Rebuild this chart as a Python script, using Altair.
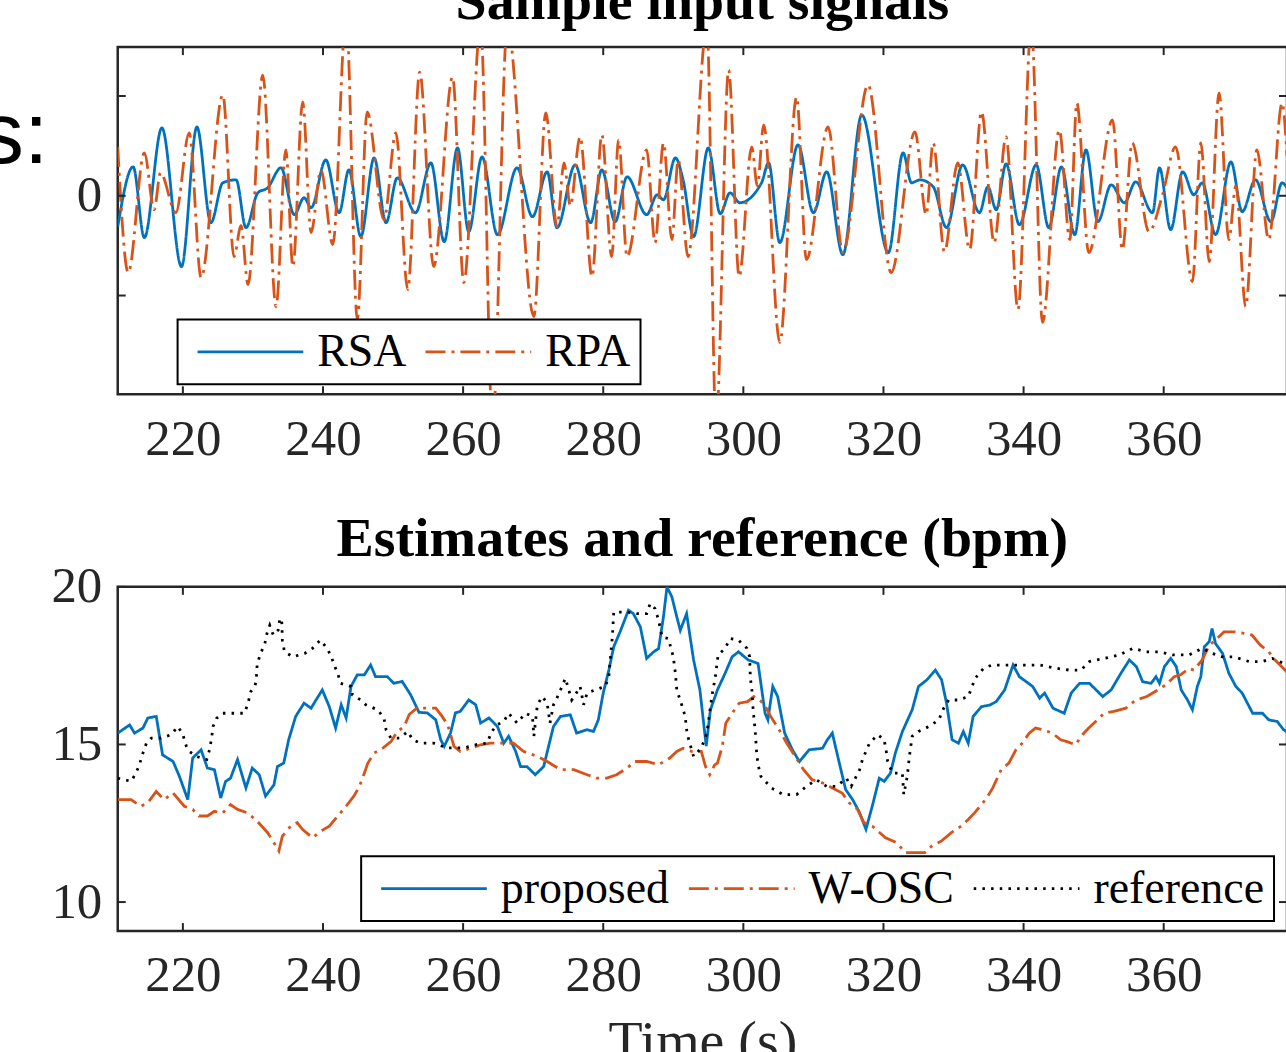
import altair as alt
import pandas as pd

# ---------------- data ----------------
x_ticks = [220, 240, 260, 280, 300, 320, 340, 360]
top_yticks = [-1, 0, 1]
top_ylabels = [0]
bot_yticks = [10, 15, 20]

rsa_t = [210.7, 212.9, 214.5, 217.0, 219.8, 222.0, 224.0, 225.7, 227.6, 229.0,
         230.7, 232.1, 234.0, 235.9, 237.3, 238.3, 240.4, 242.3, 243.7, 245.4,
         247.3, 249.0, 250.6, 253.2, 255.4, 257.3, 259.2, 260.8, 262.7, 264.9,
         267.7, 269.9, 272.0, 273.4, 276.0, 278.2, 279.8, 281.7, 283.4, 286.2,
         287.7, 288.6, 290.3, 291.4, 292.9, 295.0, 296.7, 298.1, 299.5, 302.6,
         303.6, 305.2, 307.8, 310.0, 311.9, 314.2, 316.9, 320.7, 322.8, 324.0,
         325.2, 327.1, 329.0, 331.3, 333.7, 334.9, 336.1, 337.5, 339.4, 341.8,
         343.6, 345.4, 347.3, 348.9, 350.6, 352.5, 354.4, 356.0, 358.4, 359.4,
         361.0, 362.7, 364.3, 365.5, 367.4, 369.6, 371.2, 373.1, 375.3, 376.9,
         377.6]
rsa_v = [-0.31, 0.29, -0.42, 0.68, -0.71, 0.69, -0.27, 0.13, 0.16, -0.32,
         0.03, 0.08, 0.28, -0.19, -0.02, -0.12, 0.36, -0.17, 0.26, -0.41,
         0.38, -0.27, 0.18, -0.17, 0.33, -0.46, 0.48, -0.36, 0.39, -0.39,
         0.28, -0.21, 0.24, -0.32, 0.31, -0.27, 0.26, -0.26, 0.19, -0.19,
         0.01, -0.04, 0.38, 0.16, -0.41, 0.48, -0.18, 0.03, -0.07, 0.13,
         0.33, -0.47, 0.51, -0.17, 0.24, -0.59, 0.81, -0.57, 0.43, 0.13,
         0.16, 0.09, -0.32, 0.31, -0.17, 0.09, -0.14, 0.32, -0.29, 0.31,
         -0.32, 0.29, -0.39, 0.46, -0.26, 0.11, -0.07, 0.14, -0.17, 0.28,
         -0.34, 0.24, 0.01, 0.13, -0.39, 0.34, -0.16, 0.16, -0.26, 0.13,
         0.08]

rpa_t = [210.7, 212.2, 214.5, 215.9, 216.8, 219.0, 220.9, 222.6, 225.7, 227.3,
         228.3, 229.3, 231.4, 233.3, 234.7, 235.7, 237.1, 238.3, 239.7, 241.4,
         243.3, 244.9, 246.3, 248.7, 250.4, 252.1, 253.8, 255.8, 258.5, 260.1,
         262.5, 264.2, 266.3, 270.1, 271.8, 273.4, 274.4, 275.3, 276.7, 278.4,
         279.8, 281.2, 282.2, 283.4, 286.2, 287.4, 288.6, 289.8, 290.7, 292.1,
         294.8, 296.1, 297.9, 299.4, 301.2, 302.0, 302.9, 305.2, 307.6, 309.0,
         312.1, 314.2, 317.8, 321.1, 324.5, 326.1, 327.1, 328.7, 330.6, 332.3,
         334.0, 335.8, 337.5, 339.2, 341.1, 342.7, 345.1, 346.6, 347.6, 349.3,
         352.7, 354.1, 355.5, 357.9, 359.8, 361.7, 364.1, 365.3, 366.5, 367.9,
         369.3, 370.3, 371.7, 373.3, 375.0, 376.9, 377.6]
rpa_v = [0.49, -0.77, 0.43, -0.14, 0.23, -0.17, 0.63, -0.82, 1.01, -0.61,
         -0.30, -0.89, 1.21, -1.11, 0.46, -0.71, 0.94, -0.37, 0.26, -0.49,
         1.80, -1.24, 0.84, -0.24, 0.63, -0.94, 1.24, -0.71, 1.19, -0.87,
         1.70, -2.30, 1.70, -1.21, 0.83, -0.31, 0.33, -0.10, 0.59, -0.81,
         0.61, -0.61, 0.56, -0.61, 0.46, -0.47, 0.53, -0.44, 0.36, -0.61,
         1.70, -2.30, 1.26, -0.81, 0.49, 0.10, 0.71, -1.47, 0.99, -0.64,
         0.69, -0.57, 1.11, -0.77, 0.64, -0.19, 0.53, -0.56, 0.33, -0.54,
         0.84, -0.47, 0.59, -1.14, 1.70, -1.27, 0.66, -0.44, 0.93, -0.57,
         0.76, -0.54, 0.53, -0.36, 0.00, 0.49, -0.86, 0.53, -0.66, 1.03,
         -0.44, 0.10, -1.11, 0.46, -0.44, 0.93, 0.40]

prop_t = [210.7, 212.4, 213.1, 214.3, 215.0, 216.2, 217.1, 218.6, 219.5, 220.7,
          221.4, 222.6, 223.5, 224.5, 225.4, 226.1, 226.8, 227.8, 228.5, 229.0,
          229.9, 230.9, 231.8, 233.0, 233.5, 234.4, 235.1, 236.1, 237.3, 238.3,
          239.0, 239.9, 240.9, 241.8, 242.6, 243.3, 244.0, 244.9, 245.9, 246.8,
          247.5, 249.2, 250.1, 251.3, 252.5, 253.7, 254.9, 256.1, 256.8, 257.3,
          258.2, 258.9, 259.6, 260.8, 261.8, 262.5, 263.7, 264.9, 265.8, 266.5,
          267.5, 268.2, 269.1, 270.3, 271.5, 272.2, 272.9, 273.9, 275.3, 276.2,
          277.7, 278.6, 279.3, 280.0, 280.8, 281.5, 282.4, 283.6, 284.3, 285.3,
          286.2, 287.2, 287.9, 288.6, 289.1, 289.8, 290.5, 291.0, 291.9, 292.9,
          293.8, 294.7, 295.3, 296.3, 297.4, 298.4, 299.3, 300.7, 302.1, 303.1,
          303.5, 304.2, 304.9, 305.9, 307.0, 308.0, 309.4, 311.3, 312.0, 312.7,
          313.7, 314.6, 315.6, 316.5, 317.5, 318.4, 319.4, 320.1, 321.0, 321.7,
          322.7, 324.1, 325.0, 326.2, 327.4, 328.3, 329.0, 329.8, 330.7, 331.4,
          332.1, 332.8, 334.0, 335.2, 336.1, 337.3, 338.5, 339.4, 341.3, 342.3,
          343.0, 344.2, 345.8, 346.8, 348.0, 349.4, 351.3, 352.5, 353.9, 355.1,
          356.1, 357.0, 358.2, 358.9, 359.4, 360.1, 361.0, 361.8, 362.5, 363.4,
          364.1, 364.8, 365.3, 365.8, 366.5, 366.9, 367.4, 368.4, 369.3, 370.3,
          371.2, 372.7, 374.1, 375.0, 376.2, 377.1, 377.6]
prop_v = [15.36, 15.62, 15.36, 15.52, 15.84, 15.89, 14.67, 14.46, 13.99, 13.25,
          14.57, 14.83, 14.25, 14.20, 13.30, 13.83, 13.93, 14.52, 13.99, 13.62,
          14.25, 14.04, 13.36, 13.72, 14.30, 14.41, 15.15, 15.89, 16.31, 16.15,
          16.41, 16.73, 16.20, 15.52, 16.26, 15.84, 16.84, 17.21, 17.21, 17.52,
          17.15, 17.15, 16.94, 17.00, 16.58, 16.02, 16.00, 15.78, 15.15, 14.94,
          15.36, 16.00, 16.05, 16.41, 16.26, 15.68, 15.84, 15.57, 15.04, 15.26,
          14.78, 14.30, 14.30, 14.04, 14.30, 14.94, 15.57, 15.89, 15.94, 15.36,
          15.47, 15.41, 15.78, 16.63, 17.36, 18.10, 18.57, 19.26, 19.15, 18.73,
          17.73, 17.94, 18.04, 19.05, 20.00, 19.68, 19.05, 18.62, 19.15, 17.68,
          16.73, 14.95, 16.10, 16.73, 17.26, 17.78, 17.94, 17.68, 17.57, 15.99,
          15.78, 16.84, 16.52, 15.36, 14.83, 14.46, 14.83, 14.88, 15.15, 15.36,
          14.41, 13.57, 13.25, 12.88, 12.31, 13.04, 13.93, 13.83, 14.09, 14.73,
          15.41, 16.10, 16.84, 17.05, 17.36, 17.05, 16.31, 15.15, 15.04, 15.41,
          15.04, 15.89, 16.20, 16.25, 16.36, 16.73, 17.52, 17.15, 16.84, 16.47,
          16.63, 16.15, 15.99, 16.63, 16.94, 16.94, 16.52, 16.73, 17.26, 17.68,
          17.47, 16.99, 16.94, 17.15, 16.94, 17.47, 17.73, 17.47, 16.73, 16.41,
          16.10, 16.84, 17.15, 18.10, 18.26, 18.68, 18.20, 17.89, 17.26, 16.84,
          16.63, 15.99, 15.99, 15.78, 15.73, 15.47, 15.40]

wosc_t = [210.7, 212.6, 214.0, 215.0, 216.2, 217.3, 218.6, 220.2, 221.4, 222.3,
          223.5, 224.5, 225.7, 226.8, 227.8, 229.2, 230.6, 232.1, 233.0, 233.7,
          234.2, 235.4, 236.3, 237.1, 238.5, 239.7, 240.9, 242.1, 243.3, 244.4,
          245.2, 245.9, 246.4, 247.3, 248.5, 249.7, 250.6, 251.6, 252.3, 253.4,
          254.6, 256.1, 257.0, 257.8, 258.7, 259.6, 261.1, 262.5, 263.9, 265.8,
          267.2, 268.6, 270.6, 272.0, 273.9, 275.8, 277.7, 279.1, 280.5, 281.9,
          283.4, 284.5, 286.2, 287.9, 289.5, 290.5, 291.4, 292.6, 294.0, 294.6,
          295.2, 295.9, 296.3, 297.0, 297.5, 298.4, 299.4, 300.6, 301.5, 302.9,
          303.9, 305.1, 306.2, 307.4, 308.6, 309.8, 311.3, 312.7, 314.1, 315.1,
          316.3, 317.2, 318.4, 320.3, 321.9, 323.1, 324.5, 325.9, 326.9, 328.3,
          329.7, 331.1, 332.1, 333.0, 334.0, 334.9, 335.6, 336.8, 337.9, 338.9,
          339.8, 340.8, 341.7, 342.7, 344.1, 345.3, 346.2, 347.4, 348.4, 349.3,
          350.3, 351.5, 352.9, 354.6, 356.0, 357.6, 358.8, 360.3, 361.5, 362.4,
          363.6, 364.3, 365.5, 366.5, 367.4, 368.6, 370.2, 371.7, 372.6, 373.8,
          375.0, 375.9, 377.1, 377.6]
wosc_v = [13.25, 13.25, 13.04, 13.15, 13.51, 13.25, 13.46, 13.04, 12.94, 12.73,
          12.73, 12.88, 12.83, 13.09, 12.94, 12.83, 12.57, 12.20, 11.88, 11.62,
          12.09, 12.41, 12.52, 12.30, 12.04, 12.25, 12.41, 12.73, 13.04, 13.36,
          13.67, 14.09, 14.41, 14.73, 14.88, 15.09, 15.41, 15.57, 15.95, 16.15,
          16.15, 16.15, 15.89, 15.62, 14.94, 14.78, 14.88, 14.99, 15.04, 15.04,
          15.04, 14.78, 14.62, 14.46, 14.20, 14.20, 14.04, 13.93, 13.93, 14.04,
          14.25, 14.46, 14.46, 14.36, 14.57, 14.78, 14.88, 14.78, 14.78, 14.30,
          14.04, 14.35, 14.41, 14.94, 15.68, 15.99, 16.31, 16.36, 16.52, 16.31,
          15.89, 15.47, 15.04, 14.62, 14.20, 13.88, 13.78, 13.62, 13.46, 13.15,
          12.94, 12.52, 12.41, 12.04, 11.88, 11.57, 11.57, 11.57, 11.78, 11.94,
          12.20, 12.41, 12.62, 12.83, 13.09, 13.36, 13.62, 14.20, 14.41, 14.83,
          15.04, 15.36, 15.52, 15.47, 15.36, 15.15, 15.09, 14.99, 15.31, 15.52,
          15.73, 15.99, 16.05, 16.15, 16.41, 16.52, 16.68, 16.89, 17.15, 17.21,
          17.41, 17.36, 17.68, 18.15, 18.31, 18.57, 18.57, 18.52, 18.47, 18.15,
          17.94, 17.68, 17.41, 17.30]

ref_t = [210.7, 212.6, 213.3, 213.8, 214.3, 214.8, 215.5, 216.9, 218.3, 219.3,
         220.0, 220.5, 220.9, 221.9, 223.4, 223.8, 224.1, 224.3, 224.8, 225.7,
         227.4, 228.8, 229.3, 229.7, 230.3, 230.5, 230.6, 231.0, 231.7, 232.0,
         232.4, 232.9, 233.6, 233.8, 234.1, 234.2, 234.5, 235.7, 237.4, 238.5,
         239.6, 240.4, 241.1, 241.6, 242.1, 242.5, 244.0, 244.2, 245.4, 246.1,
         247.8, 248.7, 249.0, 249.7, 250.9, 252.1, 252.8, 253.9, 255.8, 257.7,
         260.1, 262.0, 263.4, 264.1, 264.8, 265.8, 266.5, 267.7, 268.9, 269.9,
         270.1, 270.6, 271.3, 272.0, 272.4, 272.9, 273.6, 274.6, 275.5, 276.0,
         276.7, 277.2, 277.7, 278.8, 280.3, 280.8, 281.0, 281.3, 281.5, 283.4,
         284.8, 286.2, 286.7, 287.4, 287.9, 288.4, 289.3, 290.0, 290.3, 290.5,
         291.2, 291.7, 291.9, 292.2, 292.9, 294.0, 294.8, 295.5, 296.0, 296.4,
         297.4, 298.1, 299.3, 300.5, 300.9, 301.0, 301.2, 301.4, 301.7, 301.9,
         302.1, 302.5, 304.0, 305.7, 307.6, 309.0, 310.4, 311.9, 313.3, 314.7,
         315.4, 316.6, 317.0, 318.0, 319.2, 320.1, 320.4, 320.6, 321.3, 322.7,
         322.9, 323.4, 323.7, 324.1, 325.0, 326.5, 327.9, 328.6, 329.3, 330.7,
         332.1, 333.1, 334.3, 335.5, 337.5, 339.9, 342.3, 344.6, 346.5, 348.2,
         349.4, 351.5, 353.7, 355.6, 357.5, 359.4, 361.3, 363.6, 365.5, 366.9,
         368.4, 370.0, 372.2, 374.1, 375.5, 377.1, 377.6]
ref_v = [13.93, 13.83, 14.09, 14.36, 14.73, 15.04, 15.20, 15.20, 15.31, 15.57,
         15.31, 14.94, 14.78, 14.62, 14.52, 14.83, 15.20, 15.57, 15.83, 15.99,
         15.99, 15.99, 16.31, 16.68, 16.84, 17.15, 17.52, 17.84, 18.20, 18.52,
         18.78, 18.47, 18.63, 18.94, 19.00, 18.31, 17.94, 17.78, 17.89, 18.05,
         18.31, 18.10, 17.84, 17.52, 17.26, 16.94, 16.84, 16.57, 16.41, 16.26,
         16.10, 15.84, 15.47, 15.20, 15.20, 15.41, 15.15, 15.04, 15.04, 14.89,
         14.89, 15.00, 15.04, 15.41, 15.62, 15.73, 15.99, 15.68, 15.99, 15.89,
         15.26, 16.26, 16.52, 16.31, 15.68, 16.26, 16.57, 17.10, 16.41, 16.57,
         16.84, 16.26, 16.63, 16.73, 16.84, 17.15, 17.68, 18.41, 19.20, 19.20,
         19.15, 19.15, 19.47, 19.31, 18.94, 18.41, 18.36, 17.78, 17.26, 16.73,
         16.26, 15.89, 15.47, 15.15, 14.62, 14.89, 15.36, 16.52, 17.15, 17.84,
         18.05, 18.36, 18.31, 18.05, 17.78, 17.10, 16.78, 16.10, 15.41, 14.73,
         14.36, 13.99, 13.62, 13.41, 13.41, 13.67, 13.88, 13.67, 13.67, 13.93,
         13.67, 14.20, 14.52, 15.04, 15.31, 15.15, 14.78, 14.46, 14.09, 14.09,
         13.41, 13.99, 14.62, 15.26, 15.41, 15.57, 15.78, 16.15, 16.41, 16.41,
         16.52, 17.10, 17.42, 17.52, 17.52, 17.52, 17.52, 17.42, 17.36, 17.36,
         17.63, 17.73, 17.84, 18.05, 17.94, 17.94, 17.84, 17.84, 18.05, 17.89,
         17.78, 17.78, 17.63, 17.63, 17.73, 17.57, 17.50]

top_series = ["RSA", "RPA"]
bot_series = ["proposed", "W-OSC", "reference"]

# ---------------- styling ----------------
BLUE = "#0072BD"
ORANGE = "#D95319"
BLACK = "#000000"
AX = "#262626"
SERIF = "Liberation Serif"

W = 1172
H1 = 348
H2 = 345
X_DOMAIN = [210.7, 377.6]
TOP_DOMAIN = [-1.99, 1.49]
BOT_DOMAIN = [9.08, 20.0]
TICK = 8

top_df = pd.DataFrame({
    "t": rsa_t + rpa_t,
    "v": rsa_v + rpa_v,
    "series": ["RSA"] * len(rsa_t) + ["RPA"] * len(rpa_t),
})
bot_df = pd.DataFrame({
    "t": prop_t + wosc_t + ref_t,
    "v": prop_v + wosc_v + ref_v,
    "series": ["proposed"] * len(prop_t) + ["W-OSC"] * len(wosc_t) + ["reference"] * len(ref_t),
})


def xscale():
    return alt.Scale(domain=X_DOMAIN, nice=False, zero=False)


def legend(x, y, cols):
    return alt.Legend(
        orient="none", legendX=x, legendY=y, direction="horizontal", columns=cols,
        title=None, labelFont=SERIF, labelFontSize=46, labelColor=BLACK,
        labelLimit=0, symbolType="stroke", symbolSize=11236, symbolStrokeWidth=2.6,
        strokeColor=BLACK, fillColor="white", padding=9.5, symbolOffset=9,
        labelOffset=12.5, columnPadding=8.5, clipHeight=46,
    )


def x_axis(title):
    kw = dict(values=x_ticks, ticks=False, domain=False, grid=False,
              labelFont=SERIF, labelFontSize=51, labelColor=AX, labelPadding=20,
              labelFlush=False, labelOverlap=False)
    if title:
        kw.update(title=title, titleFont=SERIF, titleFontSize=56,
                  titleFontWeight="normal", titleColor=AX, titlePadding=14)
    else:
        kw.update(title=None)
    return alt.Axis(**kw)


def y_axis(vals):
    return alt.Axis(values=vals, title=None, ticks=False, domain=False, grid=False,
                    labelFont=SERIF, labelFontSize=51, labelColor=AX,
                    labelPadding=16, labelOverlap=False, labelFlush=False)


def tick_layers(yticks, ydomain, H, xax, yax):
    dx = pd.DataFrame({"t": x_ticks})
    dy = pd.DataFrame({"v": yticks})
    ys = alt.Scale(domain=ydomain, nice=False, zero=False)
    bx = alt.Chart(dx).mark_rule(color=AX, strokeWidth=2)
    by = alt.Chart(dy).mark_rule(color=AX, strokeWidth=2)
    xe = alt.X("t:Q", scale=xscale(), axis=xax)
    ye = alt.Y("v:Q", scale=ys, axis=yax)
    return [
        bx.encode(x=xe, y=alt.value(0), y2=alt.value(TICK)),
        bx.encode(x=xe, y=alt.value(H), y2=alt.value(H - TICK)),
        by.encode(y=ye, x=alt.value(0), x2=alt.value(TICK)),
        by.encode(y=ye, x=alt.value(W), x2=alt.value(W - TICK)),
    ]


def series_layer(df, name, domain, colors, dashes, leg, xax, yax, ydomain, interp):
    return alt.Chart(df).transform_filter(alt.datum.series == name).mark_line(
        strokeWidth=2.8, clip=True, interpolate=interp
    ).encode(
        x=alt.X("t:Q", scale=xscale(), axis=xax),
        y=alt.Y("v:Q", scale=alt.Scale(domain=ydomain, nice=False, zero=False), axis=yax),
        color=alt.Color("series:N", scale=alt.Scale(domain=domain, range=colors), legend=leg),
        strokeDash=alt.StrokeDash("series:N", scale=alt.Scale(domain=domain, range=dashes), legend=leg),
    )


def title(text, offset):
    return alt.TitleParams(text, font=SERIF, fontSize=56, fontWeight="bold", color=BLACK,
                           baseline="alphabetic", offset=offset, anchor="middle", frame="group")


# ---------------- top panel ----------------
leg_top = legend(60, 273, 2)
top_xax = x_axis(None)
top_yax = y_axis(top_ylabels)
top_layers = [
    series_layer(top_df, s, top_series, [BLUE, ORANGE], [[1, 0], [20, 6, 3, 6]], leg_top,
                 top_xax, top_yax, TOP_DOMAIN, "monotone")
    for s in top_series
]
side_text = alt.Chart(pd.DataFrame({"txt": ["s:"]})).mark_text(
    font="Liberation Sans", fontSize=88, align="left", baseline="alphabetic", color=BLACK
).encode(text="txt:N", x=alt.value(-138), y=alt.value(116))

top = alt.layer(
    *top_layers, *tick_layers(top_yticks, TOP_DOMAIN, H1, top_xax, top_yax), side_text
).properties(width=W, height=H1, title=title("Sample input signals", -29))

# ---------------- bottom panel ----------------
leg_bot = legend(244, 270, 3)
bot_xax = x_axis("Time (s)")
bot_yax = y_axis(bot_yticks)
bot_layers = [
    series_layer(bot_df, s, bot_series, [BLUE, ORANGE, BLACK],
                 [[1, 0], [20, 6, 3, 6], [2.5, 6.2]], leg_bot,
                 bot_xax, bot_yax, BOT_DOMAIN, "linear")
    for s in bot_series
]
bottom = alt.layer(
    *bot_layers, *tick_layers(bot_yticks, BOT_DOMAIN, H2, bot_xax, bot_yax)
).properties(width=W, height=H2, title=title("Estimates and reference (bpm)", -51))

chart = alt.vconcat(top, bottom, spacing=193, bounds="flush").resolve_scale(
    color="independent", strokeDash="independent"
).properties(
    padding={"left": -22, "top": -29, "right": -4, "bottom": -20},
    background="white",
).configure_view(stroke=AX, strokeWidth=2.5).configure_legend(strokeWidth=2)

chart.save("out.html", embed_options={"renderer": "svg", "actions": False})
